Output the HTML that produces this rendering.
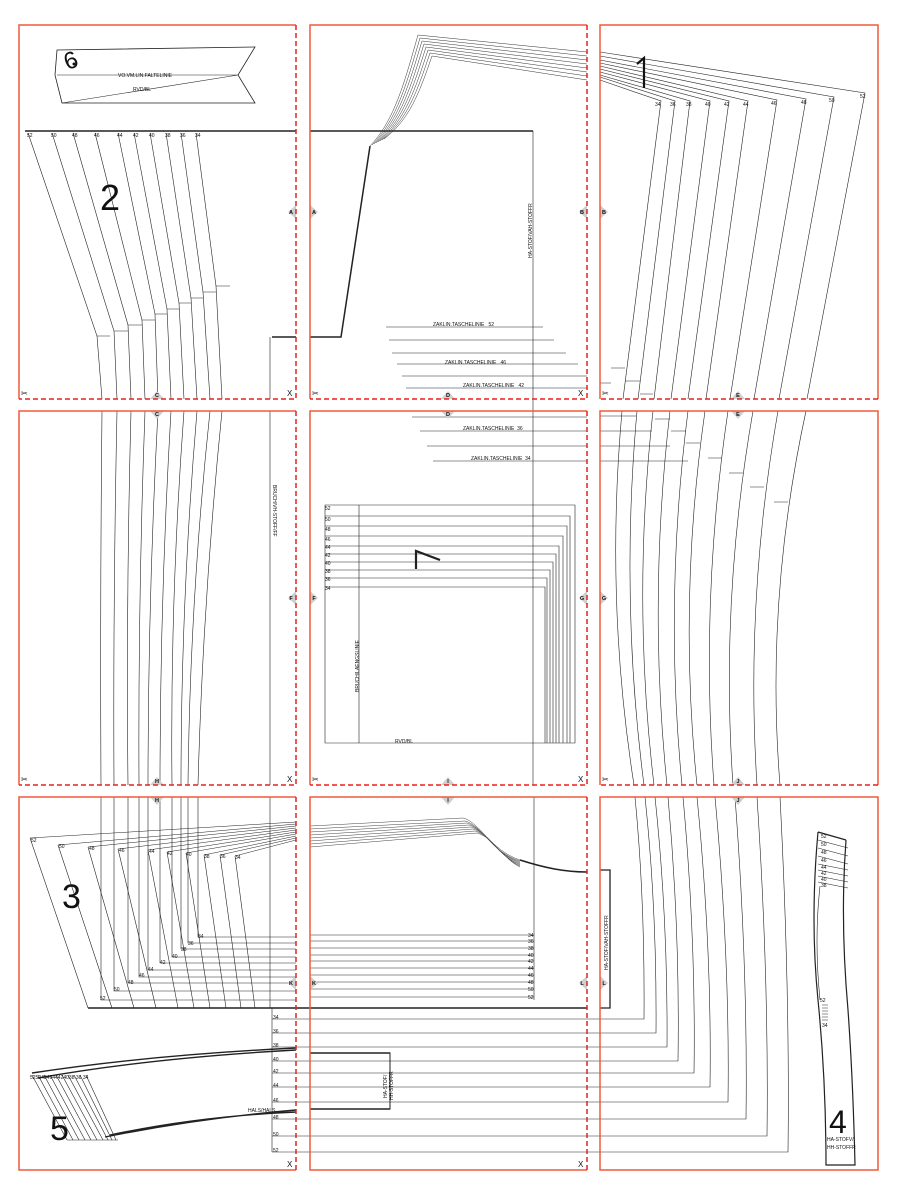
<!DOCTYPE html>
<html><head><meta charset="utf-8"><style>
html,body{margin:0;padding:0;background:#fff;width:900px;height:1200px;overflow:hidden}
svg{display:block}
text{font-family:"Liberation Sans",sans-serif;fill:#111}
.s{font-size:5px}
.m{font-size:5.5px;font-weight:bold;text-anchor:middle}
</style></head><body>
<svg width="900" height="1200" viewBox="0 0 900 1200" xmlns="http://www.w3.org/2000/svg">
<g fill="none" stroke="#222" stroke-width="0.6">
<!-- ===== T1 ===== -->
<path d="M57,50 L255,47 L238,75 L255,103 L62,103 L55,75 Z" stroke-width="0.8"/>
<path d="M57,75 L238,75 M62,103 L238,75"/>
<path d="M25,131 L296,131" stroke-width="1.6"/>
<path d="M28,133 L97,336 L102,399 M52,133 L114,331 L117,399 M73,133 L128,325 L131,399 M95,133 L142,320 L145,399 M118,133 L155,314 L158,399 M134,133 L167,309 L171,399 M150,133 L179,303 L184,399 M166,133 L191,298 L197,399 M181,133 L203,292 L210,399 M196,133 L216,286 L222,399"/>
<path d="M97,336 H110 M114,331 H128 M128,325 H142 M142,320 H155 M155,314 H167 M167,309 H179 M179,303 H191 M191,298 H203 M203,292 H216 M216,286 H230"/>
<path d="M270,337 V399"/>
<path d="M272,337 H296" stroke-width="1.4"/>
<!-- ===== T2 ===== -->
<path d="M310,131 H533" stroke-width="1.6"/>
<path d="M533,131 V785" />
<path d="M534,797 V1000"/>
<path d="M310,337 H341 L370,146" stroke-width="1.5"/>
<g stroke="#333" stroke-width="0.5">
<path d="M370,146 C395,120 405,80 418,35 L587,52"/>
<path d="M372,145 C397,120 407,82 420,38 L587,56"/>
<path d="M374,144 C399,120 409,84 422,41 L587,60"/>
<path d="M376,143 C401,120 411,86 424,44 L587,64"/>
<path d="M378,142 C403,120 413,88 426,47 L587,68"/>
<path d="M380,141 C405,120 415,90 428,50 L587,72"/>
<path d="M382,140 C407,120 417,92 430,53 L587,76"/>
<path d="M384,139 C409,120 419,94 432,56 L587,80"/>
</g>
<path d="M386,327 H543 M389,340 H554 M392,353 H566 M397,364 H578 M402,376 H587 M406,388 H587"/>
<path d="M412,417 H587 M420,431 H587 M427,446 H587 M433,461 H587"/>
<!-- piece 7 -->
<path d="M325,505 H575 V743 H325 Z M359,505 V743"/>
<path d="M325,516 H570 V743 M325,526 H567 V743 M325,536 H563 V743 M325,546 H559 V743 M325,554 H556 V743 M325,562 H553 V743 M325,570 H550 V743 M325,578 H547 V743 M325,587 H545 V743"/>
<path d="M416,569 V551 L440,560" stroke-width="2.2"/>
<!-- ===== T3 row1 ===== -->
<path d="M600,52 L865,93 L807,399 M600,56 L834,97 L779,399 M600,60 L806,99 L754,399 M600,63 L777,100 L730,399 M600,66 L748,101 L706,399 M600,69 L729,101 L688,399 M600,72 L710,101 L671,399 M600,75 L690,101 L654,399 M600,77 L675,101 L638,399 M600,80 L661,101 L623,399"/>
<path d="M611,368 H625 M625,381 H640 M640,394 H653 M600,383 H611"/>
<!-- ===== T1 row2 ===== -->
<path d="M102,411 Q100,600 101,785 M117,411 Q113,600 114,785 M131,411 Q126,600 128,785 M145,411 Q138,600 139,785 M158,411 Q148,600 148,785 M171,411 Q160,600 160,785 M184,411 Q170,600 172,785 M197,411 Q181,600 181,785 M210,411 Q190,600 188,785 M222,411 Q203,600 198,785"/>
<path d="M270,411 V785"/>
<!-- ===== T3 row2 ===== -->
<path d="M622,411 Q605,600 634,785 M637,411 Q620,600 644,785 M653,411 Q632,600 654,785 M670,411 Q648,600 667,785 M688,411 Q664,600 682,785 M705,411 Q678,600 697,785 M728,411 Q700,600 714,785 M753,411 Q720,600 733,785 M778,411 Q745,600 757,785 M806,411 Q765,600 780,785"/>
<path d="M600,416 H636 M600,431 H652 M600,446 H670 M600,461 H688 M655,419 H670 M671,431 H686 M686,443 H700 M708,458 H722 M729,473 H743 M750,487 H764 M774,502 H788"/>
<!-- ===== T3 row3 ===== -->
<path d="M635,797 Q645,900 644,1019 H272 M645,797 Q657,910 656,1033 H272 M655,797 Q668,920 667,1047 H272 M668,797 Q680,930 678,1061 H272 M683,797 Q696,940 694,1073 H272 M697,797 Q712,950 710,1087 H272 M715,797 Q730,960 728,1102 H272 M735,797 Q748,970 746,1119 H272 M757,797 Q769,980 767,1136 H272 M780,797 Q790,990 788,1152 H272"/>
<path d="M88,1008 H587" stroke-width="1.6"/>
<path d="M600,870 H610 V1008 H600" stroke-width="1.3"/>
<!-- piece 4 -->
<path d="M818,832 L846,840 M818,832 Q810,920 818,1000 Q826,1080 826,1165 H855 Q853,1080 848,1010 Q840,920 846,840" stroke-width="1.2"/>
<path d="M818,840 L848,848 M818,848 L848,856 M818,856 L848,864 M818,864 L848,870 M818,870 L848,876 M818,876 L848,882 M818,882 L848,888 M820,886 Q814,940 820,1000"/>
<path d="M822,1005 H828 M822,1008 H828 M822,1011 H828 M822,1014 H828 M822,1017 H828 M822,1020 H828"/>
<!-- ===== T2 row3 ===== -->
<g stroke="#444" stroke-width="0.5">
<path d="M310,826 L463,818 C480,822 490,850 520,860 C545,868 565,872 587,872"/>
<path d="M310,829 L465,821 C482,825 491,852 520,861"/>
<path d="M310,832 L467,823 C484,828 493,853 520,862"/>
<path d="M310,835 L469,825 C486,830 495,854 520,863"/>
<path d="M310,838 L471,827 C488,832 497,856 520,864"/>
<path d="M310,841 L473,829 C490,834 499,857 520,865"/>
<path d="M310,844 L475,831 C492,836 501,858 520,866"/>
<path d="M310,847 L477,833 C494,838 503,859 520,867"/>
</g>
<path d="M520,860 C545,868 565,872 587,872" stroke-width="1.6"/>
<path d="M310,935 H534 M310,941 H534 M310,948 H534 M310,955 H534 M310,961 H534 M310,968 H534 M310,975 H534 M310,982 H534 M310,989 H534 M310,997 H534"/>
<path d="M310,1053 H390 V1109 H310" stroke-width="1"/>
<path d="M310,1053 H390 M310,1109 H390" stroke-width="1.6"/>
<!-- ===== T1 row3 ===== -->
<g stroke-width="0.5">
<path d="M30,838 L296,822 M58,845 L296,824 M88,847 L296,826 M118,849 L296,828 M148,850 L296,830 M167,852 L296,832 M186,853 L296,834 M204,855 L296,836 M220,855 L296,838 M235,856 L296,840"/>
</g>
<path d="M30,838 L88,1008 M58,845 L112,1008 M88,847 L134,1008 M118,849 L156,1008 M148,850 L178,1008 M167,852 L194,1008 M186,853 L210,1008 M204,855 L226,1008 M220,855 L241,1008 M235,856 L255,1008"/>
<path d="M101,797 V1000 H296 M114,797 V991 H296 M128,797 V983 H296 M139,797 V977 H296 M148,797 V970 H296 M160,797 V963 H296 M172,797 V957 H296 M181,797 V949 H296 M188,797 V943 H296 M198,797 V937 H296"/>
<path d="M270,797 V1008 M272,1008 V1152"/>
<!-- piece 5 -->
<path d="M32,1073 Q150,1055 296,1048 M38,1078 Q150,1058 296,1050" stroke-width="1.4"/>
<path d="M105,1137 Q200,1118 296,1110 M110,1135 Q200,1116 296,1112" stroke-width="1.4"/>
<path d="M32,1075 L67,1140 M38,1075 L73,1140 M44,1075 L79,1140 M50,1075 L85,1140 M56,1075 L91,1140 M62,1075 L97,1140 M68,1075 L103,1140 M74,1075 L108,1140 M80,1075 L112,1140 M86,1075 L116,1140"/>
<path d="M67,1140 H118"/>
</g>

<!-- Texts -->
<text x="64" y="68" font-size="24" transform="rotate(-20 72 60)">6</text>
<circle cx="74" cy="64" r="1.5" fill="#111"/>
<text x="118" y="77" class="s">VO.VM.LIN.FALTELINIE</text>
<text x="133" y="91" class="s">RVD/BL</text>
<g class="s">
<text x="27" y="137">52</text><text x="51" y="137">50</text><text x="72" y="137">48</text><text x="94" y="137">46</text><text x="117" y="137">44</text><text x="133" y="137">42</text><text x="149" y="137">40</text><text x="165" y="137">38</text><text x="180" y="137">36</text><text x="195" y="137">34</text>
</g>
<text x="100" y="210" font-size="36">2</text>
<g class="s">
<text x="655" y="106">34</text><text x="670" y="106">36</text><text x="686" y="106">38</text><text x="705" y="106">40</text><text x="724" y="106">42</text><text x="743" y="106">44</text><text x="771" y="105">46</text><text x="801" y="104">48</text><text x="829" y="102">50</text><text x="860" y="98">52</text>
</g>
<text transform="translate(532,258) rotate(-90)" class="s">HA-STOF/VAH-STOFFR</text>
<text x="433" y="326" class="s">ZAKLIN.TASCHELINIE&#160;&#160;&#160;52</text>
<text x="445" y="364" class="s">ZAKLIN.TASCHELINIE&#160;&#160;&#160;46</text>
<text x="463" y="387" class="s">ZAKLIN.TASCHELINIE&#160;&#160;&#160;42</text>
<text x="463" y="430" class="s">ZAKLIN.TASCHELINIE&#160;&#160;36</text>
<text x="471" y="460" class="s">ZAKLIN.TASCHELINIE&#160;&#160;34</text>
<text transform="translate(273,485) rotate(90)" class="s">BRUCH/VH-STOFF/FF</text>
<g class="s">
<text x="325" y="510">52</text><text x="325" y="521">50</text><text x="325" y="531">48</text><text x="325" y="541">46</text><text x="325" y="549">44</text><text x="325" y="557">42</text><text x="325" y="565">40</text><text x="325" y="573">38</text><text x="325" y="581">36</text><text x="325" y="590">34</text>
</g>
<text transform="translate(359,692) rotate(-90)" class="s">BRUCH/LAENGSLINIE</text>
<text x="395" y="743" class="s">RVD/BL</text>
<text x="62" y="908" font-size="34">3</text>
<g class="s">
<text x="31" y="842">52</text><text x="59" y="848">50</text><text x="89" y="850">48</text><text x="119" y="852">46</text><text x="149" y="853">44</text><text x="167" y="855">42</text><text x="186" y="856">40</text><text x="204" y="858">38</text><text x="220" y="858">36</text><text x="235" y="859">34</text>
<text x="100" y="1000">52</text><text x="114" y="991">50</text><text x="128" y="984">48</text><text x="139" y="977">46</text><text x="148" y="971">44</text><text x="160" y="964">42</text><text x="172" y="958">40</text><text x="181" y="951">38</text><text x="188" y="945">36</text><text x="198" y="938">34</text>
<text x="273" y="1019">34</text><text x="273" y="1033">36</text><text x="273" y="1047">38</text><text x="273" y="1061">40</text><text x="273" y="1073">42</text><text x="273" y="1087">44</text><text x="273" y="1102">46</text><text x="273" y="1119">48</text><text x="273" y="1136">50</text><text x="273" y="1152">52</text>
<text x="528" y="937">34</text><text x="528" y="943">36</text><text x="528" y="950">38</text><text x="528" y="957">40</text><text x="528" y="963">42</text><text x="528" y="970">44</text><text x="528" y="977">46</text><text x="528" y="984">48</text><text x="528" y="991">50</text><text x="528" y="999">52</text>
<text x="30" y="1079">5250484644424038 36 34</text>
</g>
<text x="50" y="1140" font-size="34">5</text>
<text x="248" y="1112" class="s">HALS/HALS</text>
<text transform="translate(387,1098) rotate(-90)" class="s">HA-STOF/</text>
<text transform="translate(393,1100) rotate(-90)" class="s">HH-STOFFR</text>
<text transform="translate(608,970) rotate(-90)" class="s">HA-STOF/VAH-STOFFR</text>
<g class="s"><text x="821" y="838">52</text><text x="821" y="846">50</text><text x="821" y="854">48</text><text x="821" y="862">46</text><text x="821" y="869">44</text><text x="821" y="875">42</text><text x="821" y="881">40</text><text x="821" y="887">38</text><text x="820" y="1002">52</text><text x="822" y="1027">34</text>
<text x="827" y="1141">HA-STOFV/</text><text x="827" y="1149">HH-STOFFR</text></g>
<text x="829" y="1133" font-size="32">4</text>

<!-- big "1" -->
<path d="M637,64 L644,58 V88" fill="none" stroke="#111" stroke-width="2.2"/>

<!-- markers -->
<g fill="#cfcfcf">
<path d="M296,205 L288,212 L296,219 Z"/><path d="M310,205 L318,212 L310,219 Z"/>
<path d="M587,205 L579,212 L587,219 Z"/><path d="M600,205 L608,212 L600,219 Z"/>
<path d="M150,399 L157,391 L164,399 Z"/><path d="M150,411 L157,419 L164,411 Z"/>
<path d="M441,399 L448,391 L455,399 Z"/><path d="M441,411 L448,419 L455,411 Z"/>
<path d="M731,399 L738,391 L745,399 Z"/><path d="M731,411 L738,419 L745,411 Z"/>
<path d="M296,591 L288,598 L296,605 Z"/><path d="M310,591 L318,598 L310,605 Z"/>
<path d="M587,591 L579,598 L587,605 Z"/><path d="M600,591 L608,598 L600,605 Z"/>
<path d="M150,785 L157,777 L164,785 Z"/><path d="M150,797 L157,805 L164,797 Z"/>
<path d="M441,785 L448,777 L455,785 Z"/><path d="M441,797 L448,805 L455,797 Z"/>
<path d="M731,785 L738,777 L745,785 Z"/><path d="M731,797 L738,805 L745,797 Z"/>
<path d="M296,976 L288,983 L296,990 Z"/><path d="M310,976 L318,983 L310,990 Z"/>
<path d="M587,976 L579,983 L587,990 Z"/><path d="M600,976 L608,983 L600,990 Z"/>
</g>
<g class="m">
<text x="291" y="214">A</text><text x="314" y="214">A</text><text x="582" y="214">B</text><text x="604" y="214">B</text>
<text x="157" y="397">C</text><text x="157" y="416">C</text><text x="448" y="397">D</text><text x="448" y="416">D</text>
<text x="738" y="397">E</text><text x="738" y="416">E</text>
<text x="291" y="600">F</text><text x="314" y="600">F</text><text x="582" y="600">G</text><text x="604" y="600">G</text>
<text x="157" y="783">H</text><text x="157" y="802">H</text><text x="448" y="783">I</text><text x="448" y="802">I</text>
<text x="738" y="783">J</text><text x="738" y="802">J</text>
<text x="291" y="985">K</text><text x="314" y="985">K</text><text x="582" y="985">L</text><text x="604" y="985">L</text>
</g>
<g font-size="8" font-family="Liberation Sans,sans-serif">
<text x="21" y="396" fill="#f05a3a">✂</text><text x="312" y="396" fill="#f05a3a">✂</text><text x="602" y="396" fill="#f05a3a">✂</text>
<text x="21" y="782" fill="#f05a3a">✂</text><text x="312" y="782" fill="#f05a3a">✂</text><text x="602" y="782" fill="#f05a3a">✂</text>
<text x="287" y="396" fill="#f05a3a">X</text><text x="578" y="396" fill="#f05a3a">X</text>
<text x="287" y="782" fill="#f05a3a">X</text><text x="578" y="782" fill="#f05a3a">X</text>
<text x="287" y="1167" fill="#f05a3a">X</text><text x="578" y="1167" fill="#f05a3a">X</text>
</g>

<!-- tile borders -->
<g fill="none" stroke-width="1.5">
<g stroke="#f05a3a">
<path d="M296,25 H19 V399 M587,25 H310 V399 M600,399 V25 H878 V399"/>
<path d="M296,411 H19 V785 M587,411 H310 V785 M600,785 V411 H878 V785"/>
<path d="M296,797 H19 V1170 H296 M587,797 H310 V1170 H587 M600,797 H878 V1170 H600 Z"/>
</g>
<g stroke="#e8201c" stroke-dasharray="5,3">
<path d="M296,25 V399 H19 M587,25 V399 H310 M878,399 H600"/>
<path d="M296,411 V785 H19 M587,411 V785 H310 M878,785 H600"/>
<path d="M296,797 V1170 M587,797 V1170"/>
</g>
</g>
</svg>
</body></html>
